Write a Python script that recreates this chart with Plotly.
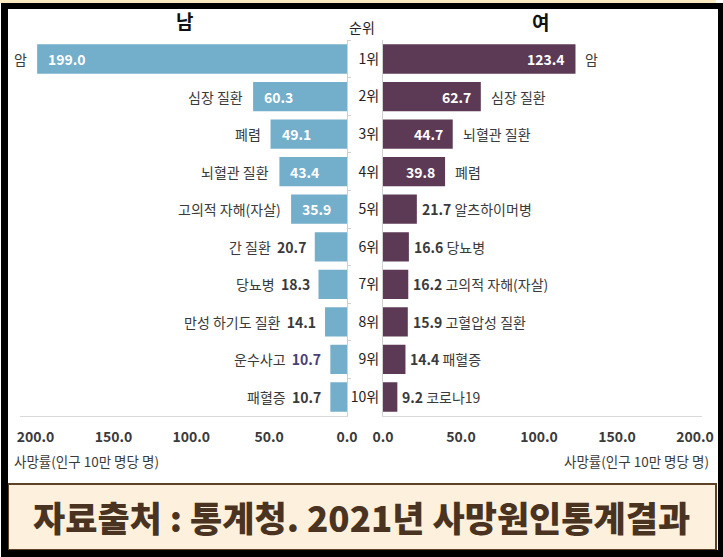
import plotly.graph_objects as go

W, H = 723, 557

# 데이터 (인구 10만 명당 사망률, 2021)
ranks = ["1위", "2위", "3위", "4위", "5위", "6위", "7위", "8위", "9위", "10위"]
male_causes = ["암", "심장 질환", "폐렴", "뇌혈관 질환", "고의적 자해(자살)",
               "간 질환", "당뇨병", "만성 하기도 질환", "운수사고", "패혈증"]
male_values = [199.0, 60.3, 49.1, 43.4, 35.9, 20.7, 18.3, 14.1, 10.7, 10.7]
female_causes = ["암", "심장 질환", "뇌혈관 질환", "폐렴", "알츠하이머병",
                 "당뇨병", "고의적 자해(자살)", "고혈압성 질환", "패혈증", "코로나19"]
female_values = [123.4, 62.7, 44.7, 39.8, 21.7, 16.6, 16.2, 15.9, 14.4, 9.2]
tick_vals = [0, 50, 100, 150, 200]
tick_text = ["0.0", "50.0", "100.0", "150.0", "200.0"]

FONT = "Noto Sans CJK KR"
MALE_COLOR = "#73aecb"
FEMALE_COLOR = "#5c3a55"
TEXT = "#3a3a3a"


def px(x):
    return x / W


def py(y):
    return 1 - y / H


fig = go.Figure()

fig.add_trace(go.Bar(
    y=ranks, x=male_values, orientation="h", xaxis="x", yaxis="y",
    marker=dict(color=MALE_COLOR, line=dict(width=0)), width=0.78,
    hoverinfo="skip", showlegend=False
))
fig.add_trace(go.Bar(
    y=ranks, x=female_values, orientation="h", xaxis="x2", yaxis="y2",
    marker=dict(color=FEMALE_COLOR, line=dict(width=0)), width=0.78,
    hoverinfo="skip", showlegend=False
))

annotations = []

# 남자 라벨
for rank, name, v in zip(ranks, male_causes, male_values):
    if v >= 30:
        annotations.append(dict(x=v, y=rank, xref="x", yref="y", xanchor="left", xshift=9,
                                text=f"{v:.1f}", showarrow=False,
                                font=dict(family=FONT, size=14, color="white", weight="bold")))
        annotations.append(dict(x=v, y=rank, xref="x", yref="y", xanchor="right", xshift=-8,
                                text=name, showarrow=False,
                                font=dict(family=FONT, size=14, color=TEXT)))
    else:
        vcol = "#4a3f7a" if name == "운수사고" else TEXT
        annotations.append(dict(x=v, y=rank, xref="x", yref="y", xanchor="right", xshift=-7,
                                text=f"{name}  <span style='color:{vcol}'><b>{v:.1f}</b></span>",
                                showarrow=False,
                                font=dict(family=FONT, size=14, color=TEXT)))

# 여자 라벨
for rank, name, v in zip(ranks, female_causes, female_values):
    if v >= 30:
        annotations.append(dict(x=v, y=rank, xref="x2", yref="y2", xanchor="right", xshift=-8,
                                text=f"{v:.1f}", showarrow=False,
                                font=dict(family=FONT, size=14, color="white", weight="bold")))
        annotations.append(dict(x=v, y=rank, xref="x2", yref="y2", xanchor="left", xshift=8,
                                text=name, showarrow=False,
                                font=dict(family=FONT, size=14, color=TEXT)))
    else:
        annotations.append(dict(x=v, y=rank, xref="x2", yref="y2", xanchor="left", xshift=3,
                                text=f"<b>{v:.1f}</b> {name}", showarrow=False,
                                font=dict(family=FONT, size=14, color=TEXT)))


def paper_text(x, y, text, size, color, xanchor="center", weight="normal"):
    return dict(x=px(x), y=py(y), xref="paper", yref="paper", xanchor=xanchor, yanchor="middle",
                text=text, showarrow=False,
                font=dict(family=FONT, size=size, color=color, weight=weight))


# 머리글 / 축 제목 / 출처
annotations += [
    paper_text(185, 20, "남", 19, "#111", weight="bold"),
    paper_text(362, 27, "순위", 14, "#222"),
    paper_text(540, 21, "여", 19, "#111", weight="bold"),
    paper_text(12, 461, "사망률(인구 10만 명당 명)", 13.5, TEXT, xanchor="left"),
    paper_text(711, 461, "사망률(인구 10만 명당 명)", 13.5, TEXT, xanchor="right"),
    paper_text(361, 516, "자료출처 : 통계청. 2021년 사망원인통계결과", 35, "#4a3421", weight=900),
]

# 테두리 / 하단 박스
shapes = [
    dict(type="rect", xref="paper", yref="paper", x0=px(0), x1=px(716), y0=py(0), y1=py(3),
         fillcolor="#fcebc2", line=dict(width=0), layer="below"),
    dict(type="rect", xref="paper", yref="paper", x0=px(8), x1=px(716), y0=py(484), y1=py(550),
         fillcolor="#fdf1de", line=dict(color="#5c4327", width=2), layer="below"),
    dict(type="rect", xref="paper", yref="paper", x0=px(1), x1=px(723), y0=py(3), y1=py(9),
         fillcolor="black", line=dict(width=0)),
    dict(type="rect", xref="paper", yref="paper", x0=px(1), x1=px(8), y0=py(3), y1=py(557),
         fillcolor="black", line=dict(width=0)),
    dict(type="rect", xref="paper", yref="paper", x0=px(718), x1=px(723), y0=py(3), y1=py(557),
         fillcolor="black", line=dict(width=0)),
    dict(type="rect", xref="paper", yref="paper", x0=px(1), x1=px(723), y0=py(550), y1=py(557),
         fillcolor="black", line=dict(width=0)),
]

ydom = [py(415.8), py(40.2)]
axis_font = dict(family=FONT, size=14, color=TEXT, weight="bold")

fig.update_layout(
    width=W, height=H, autosize=False,
    margin=dict(l=0, r=0, t=0, b=0, pad=0),
    paper_bgcolor="white", plot_bgcolor="rgba(0,0,0,0)",
    barmode="overlay",
    xaxis=dict(domain=[px(20), px(347)], range=[210, 0], anchor="y",
               tickvals=tick_vals, ticktext=tick_text, tickfont=axis_font,
               showline=True, linecolor="#d9d9d9", linewidth=1,
               showgrid=False, zeroline=False, ticks="", ticklabelstandoff=8,
               automargin=False, fixedrange=True),
    xaxis2=dict(domain=[px(383), px(702)], range=[0, 204.5], anchor="y2",
                tickvals=tick_vals, ticktext=tick_text, tickfont=axis_font,
                showline=True, linecolor="#d9d9d9", linewidth=1,
                showgrid=False, zeroline=False, ticks="", ticklabelstandoff=8,
                automargin=False, fixedrange=True),
    yaxis=dict(domain=ydom, anchor="x", side="right", type="category",
               categoryorder="array", categoryarray=ranks, autorange="reversed",
               showticklabels=False, showline=True, linecolor="#d0d0d0",
               ticks="outside", tickson="boundaries", ticklen=3, tickcolor="#d0d0d0",
               showgrid=False, zeroline=False, automargin=False, fixedrange=True),
    yaxis2=dict(domain=ydom, anchor="x2", side="left", type="category",
                categoryorder="array", categoryarray=ranks, autorange="reversed",
                tickfont=dict(family=FONT, size=14, color="#222"),
                showline=True, linecolor="#d0d0d0",
                ticks="", showgrid=False, zeroline=False, automargin=False, fixedrange=True),
    annotations=annotations,
    shapes=shapes,
)

# 페이지 기본 여백 제거
fig.write_html("out.html", config={"displayModeBar": False},
               post_script="document.body.style.margin='0';document.body.style.overflow='hidden';")
